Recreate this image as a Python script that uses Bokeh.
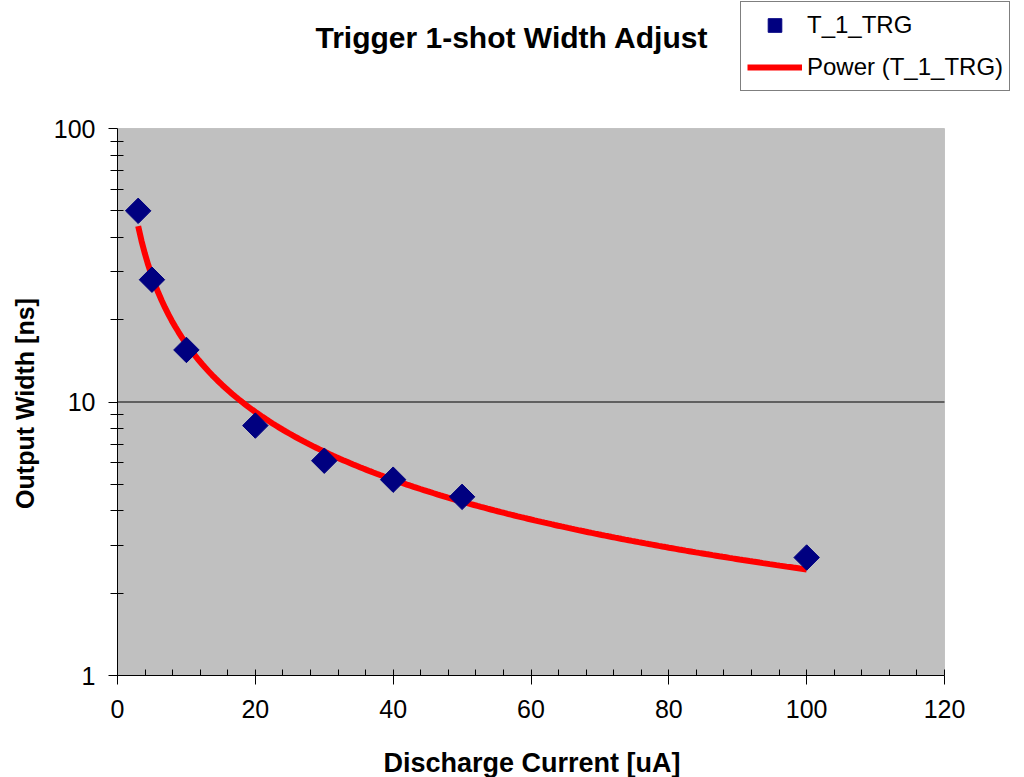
import numpy as np
from bokeh.plotting import figure
from bokeh.models import (FixedTicker, Legend, LegendItem, Label, BoxAnnotation,
                          ColumnDataSource, PrintfTickFormatter, Range1d)
from bokeh.embed import file_html
from bokeh.resources import INLINE

# Measured pulse widths versus discharge current
current_ua = [3, 5, 10, 20, 30, 40, 50, 100]
width_ns = [50, 28, 15.5, 8.2, 6.1, 5.2, 4.5, 2.7]

x_ticks = [0, 20, 40, 60, 80, 100, 120]
x_minor = list(range(0, 121, 4))
y_ticks = [1, 10, 100]
y_minor = [2, 3, 4, 5, 6, 7, 8, 9, 20, 30, 40, 50, 60, 70, 80, 90]
y_grid = [10]

series_name = "T_1_TRG"
trend_name = "Power (T_1_TRG)"

# Power trendline y = a * x^b, least squares fit in log-log space
b, ln_a = np.polyfit(np.log(current_ua), np.log(width_ns), 1)
fit_x = np.linspace(min(current_ua), max(current_ua), 200)
fit_y = np.exp(ln_a) * fit_x ** b

FONT = "Liberation Sans"
MARK_COLOR = "#000080"
LINE_COLOR = "red"

# Canvas layout (pixels).  The frame fills the whole canvas; the axes are
# pinned to the data box PLOT_* so that titles and legend can sit anywhere.
W, H = 1024, 777
PLOT_L, PLOT_R, PLOT_T, PLOT_B = 117, 944, 128, 675
x0, x1 = x_ticks[0], x_ticks[-1]
y0, y1 = y_ticks[0], y_ticks[-1]
px_per_x = (PLOT_R - PLOT_L) / (x1 - x0)
px_per_decade = (PLOT_B - PLOT_T) / np.log10(y1 / y0)
x_start = x0 - PLOT_L / px_per_x
x_end = x1 + (W - PLOT_R) / px_per_x
y_start = y0 * 10 ** (-(H - PLOT_B) / px_per_decade)
y_end = y1 * 10 ** (PLOT_T / px_per_decade)

p = figure(width=W, height=H, x_range=Range1d(x_start, x_end),
           y_range=Range1d(y_start, y_end), y_axis_type="log",
           output_backend="svg", toolbar_location=None, min_border=0)

p.background_fill_color = "white"
p.border_fill_color = "white"
p.outline_line_color = None
p.grid.visible = False

# grey plot area with its border
p.add_layout(BoxAnnotation(left=x0, right=x1, bottom=y0, top=y1,
                           fill_color="#C0C0C0", fill_alpha=1.0,
                           line_color="#808080", line_width=1,
                           level="underlay"))

# major horizontal gridline(s)
p.segment(x0=[x0] * len(y_grid), x1=[x1] * len(y_grid), y0=y_grid, y1=y_grid,
          line_color="black", line_width=1)

# axes pinned to the edges of the data box
p.xaxis.fixed_location = y0
p.yaxis.fixed_location = x0
p.xaxis.ticker = FixedTicker(ticks=x_ticks, minor_ticks=x_minor)
p.yaxis.ticker = FixedTicker(ticks=y_ticks, minor_ticks=y_minor)
p.yaxis.formatter = PrintfTickFormatter(format="%d")
p.xaxis.bounds = (x0, x1)
p.yaxis.bounds = (y0, y1)

for ax in (p.xaxis[0], p.yaxis[0]):
    ax.axis_line_color = "black"
    ax.axis_line_width = 1
    ax.major_tick_line_color = "black"
    ax.minor_tick_line_color = "black"
    ax.major_tick_out = 9
    ax.major_tick_in = 0
    ax.major_label_text_font = FONT
    ax.major_label_text_font_size = "25px"
    ax.major_label_text_color = "black"

p.xaxis.minor_tick_in = 6
p.xaxis.minor_tick_out = 0
p.yaxis.minor_tick_in = 6
p.yaxis.minor_tick_out = 7
p.xaxis.major_label_standoff = 15
p.yaxis.major_label_standoff = 13

# data
pts = ColumnDataSource(dict(x=current_ua, y=width_ns))
fit = ColumnDataSource(dict(x=fit_x, y=fit_y))

trend = p.line("x", "y", source=fit, line_color=LINE_COLOR, line_width=6)
marks = p.scatter("x", "y", source=pts, marker="square", angle=np.pi / 4,
                  size=18, fill_color=MARK_COLOR, line_color=MARK_COLOR)

# texts (screen units from the canvas bottom-left)
def add_text(text, sx, sy, size, angle=0.0):
    p.add_layout(Label(x=sx, y=H - sy, x_units="screen", y_units="screen",
                       text=text, text_font=FONT, text_font_size=size,
                       text_font_style="bold", text_align="center",
                       text_baseline="middle", text_color="black",
                       angle=angle))

add_text("Trigger 1-shot Width Adjust", 511.5, 37, "30px")
add_text("Discharge Current [uA]", 531.5, 762, "27px")
add_text("Output Width [ns]", 24, 403, "25px", angle=np.pi / 2)

# legend box at the top right
legend = Legend(items=[LegendItem(label=series_name, renderers=[marks]),
                       LegendItem(label=trend_name, renderers=[trend])],
                location=(740, H - 91), orientation="vertical",
                border_line_color="black", border_line_width=1,
                background_fill_color="white", background_fill_alpha=1.0,
                label_text_font=FONT, label_text_font_size="24px",
                label_text_color="black",
                glyph_width=55, glyph_height=34, label_height=34,
                label_standoff=5, spacing=8, padding=6, margin=0)
p.add_layout(legend)

open("out.html", "w").write(file_html(p, INLINE))
